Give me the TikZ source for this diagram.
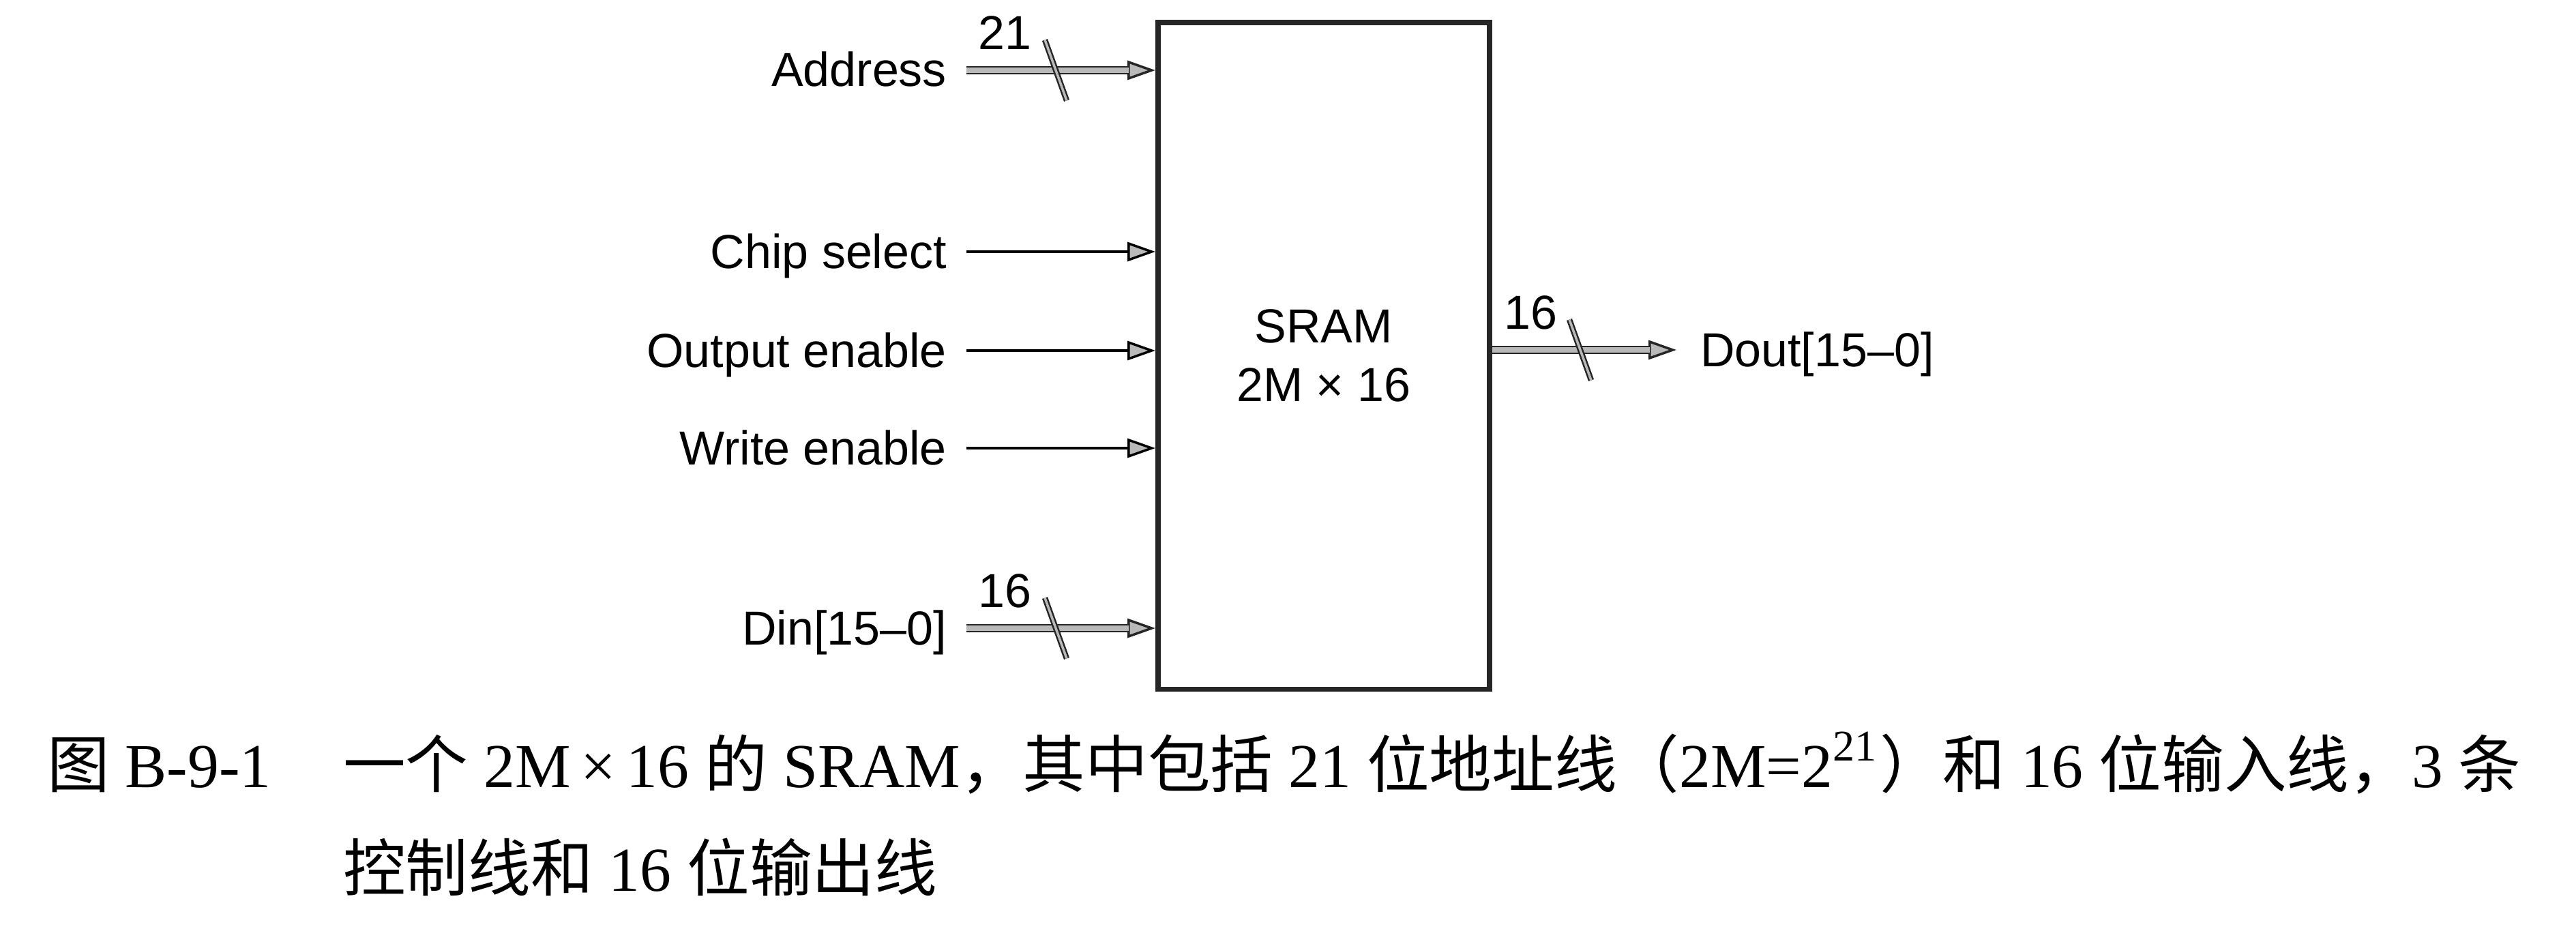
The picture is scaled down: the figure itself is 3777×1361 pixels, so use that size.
\documentclass[tikz,border=0pt]{standalone}
\usepackage{fontspec}
\setmainfont{Liberation Sans}
\newfontfamily\capserif{Liberation Serif}
\newfontfamily\capcjk{Noto Sans CJK SC}
\usetikzlibrary{arrows.meta}
\newcommand\Cj[1]{{\capcjk #1}}
\tikzset{
  lbl/.style={inner sep=0pt, font=\fontsize{7}{8.6}\selectfont},
  captxt/.style={inner sep=0pt, anchor=base west, font=\fontsize{9.17}{10}\selectfont\capserif},
  headtip/.tip={Triangle[length=4.1pt,width=2.8pt,line width=0.35pt,fill=gray!55]},
  sig/.style={draw=black, line width=0.45pt, -headtip},
  busouter/.style={draw=black!85, line width=1.25pt, -headtip},
  businner/.style={draw=gray!55, line width=0.85pt, shorten >=3.9pt},
  slash/.style={draw=black!85, line width=0.25pt, double=gray!55, double distance=0.35pt},
}
\begin{document}
\begin{tikzpicture}[x=0.1pt,y=-0.1pt]
\useasboundingbox (0,0) rectangle (3777,1361);
% memory block
\node[draw=black!85, line width=0.75pt, minimum width=48.6pt, minimum height=97.8pt,
      anchor=north west, inner sep=0pt, align=center, lbl] (sram) at (1694,29) {SRAM\\2M × 16};
% left labels
\node[lbl, anchor=base east] (laddr) at (1390,127) {Address};
\node[lbl, anchor=base east] (lcs) at (1390,393) {Chip select};
\node[lbl, anchor=base east] (loe) at (1390,538) {Output enable};
\node[lbl, anchor=base east] (lwe) at (1390,681) {Write enable};
\node[lbl, anchor=base east] (ldin) at (1390,945) {Din[15–0]};
% arrow starts
\coordinate (saddr) at (1417,103);
\coordinate (scs) at (1417,369);
\coordinate (soe) at (1417,514);
\coordinate (swe) at (1417,657);
\coordinate (sdin) at (1417,921);
% bus arrows
\draw[busouter] (saddr) -- (saddr -| sram.west);
\draw[businner] (saddr) -- (saddr -| sram.west);
\draw[busouter] (sdin) -- (sdin -| sram.west);
\draw[businner] (sdin) -- (sdin -| sram.west);
% control arrows
\draw[sig] (scs) -- (scs -| sram.west);
\draw[sig] (soe) -- (soe -| sram.west);
\draw[sig] (swe) -- (swe -| sram.west);
% output
\coordinate (edout) at (2458,513);
\draw[busouter] (edout -| sram.east) -- (edout);
\draw[businner] (edout -| sram.east) -- (edout);
\node[lbl, anchor=base west] (ldout) at (2491,537) {Dout[15–0]};
% bus widths
\node[lbl, anchor=base] (w21) at (1473,72) {21};
\node[lbl, anchor=base] (w16in) at (1473,890) {16};
\node[lbl, anchor=base] (w16out) at (2244,482) {16};
\coordinate (xaddr) at (1548,103);
\coordinate (xdin) at (1548,921);
\coordinate (xdout) at (2317,513);
\draw[slash] (xaddr) ++(-16,-44.5) -- ++(32,89);
\draw[slash] (xdin) ++(-16,-44.5) -- ++(32,89);
\draw[slash] (xdout) ++(-16,-44.5) -- ++(32,89);
% caption
\node[captxt] (capno) at (67,1154) {\Cj{图} B-9-1};
\node[captxt] (cap1) at (501,1154) {\Cj{一个} 2M\,×\,16 \Cj{的} SRAM\Cj{，其中包括} 21 \Cj{位地址线（}2M=2\textsuperscript{21}\Cj{）和} 16 \Cj{位输入线，}3 \Cj{条}};
\node[captxt] (cap2) at (501,1306) {\Cj{控制线和} 16 \Cj{位输出线}};
\end{tikzpicture}
\end{document}
